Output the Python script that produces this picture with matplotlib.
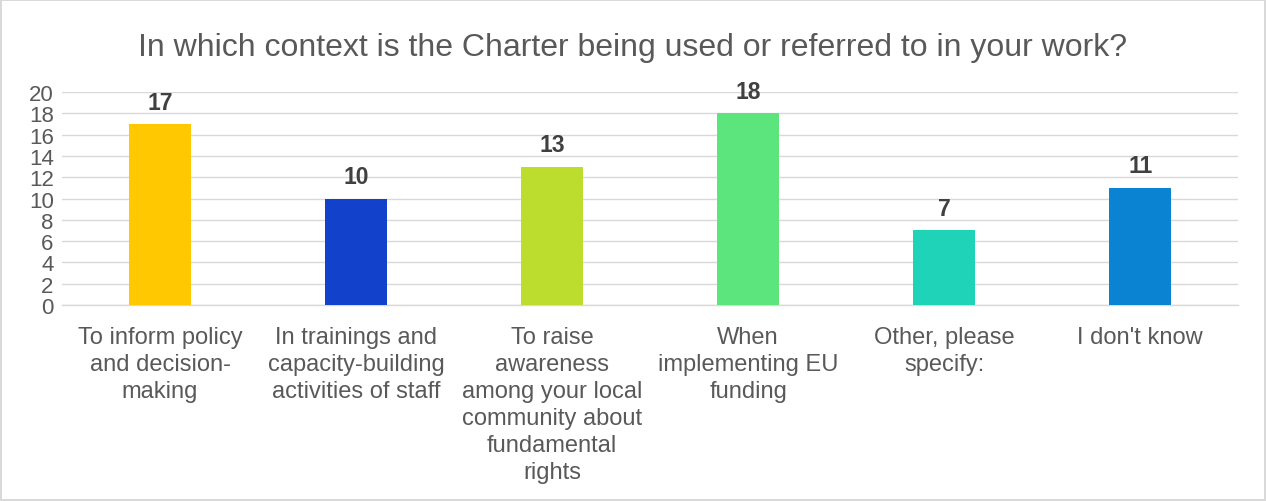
import matplotlib
matplotlib.use("Agg")
import matplotlib.pyplot as plt

categories = [
    "To inform policy\nand decision-\nmaking",
    "In trainings and\ncapacity-building\nactivities of staff",
    "To raise\nawareness\namong your local\ncommunity about\nfundamental\nrights",
    "When\nimplementing EU\nfunding",
    "Other, please\nspecify:",
    "I don't know",
]
values = [17, 10, 13, 18, 7, 11]
colors = ["#FFC800", "#1241CC", "#BDDD2E", "#5CE57C", "#1FD3B9", "#0A84D2"]
yticks = list(range(0, 21, 2))

plt.rcParams['font.family'] = ['Liberation Sans', 'DejaVu Sans']

fig = plt.figure(figsize=(12.66, 5.02), dpi=100)
fig.patch.set_facecolor("white")
fig.patch.set_edgecolor("#D9D9D9")
fig.patch.set_linewidth(1.5)

ax = fig.add_axes([0.049, 0.3904, 0.929, 0.4243])
x = list(range(len(categories)))
bars = ax.bar(x, values, width=0.316, color=colors, zorder=3)
for xi, v in zip(x, values):
    ax.annotate(str(v), (xi, v), xytext=(0, 7.5), textcoords="offset points",
                ha="center", va="bottom", fontsize=16.5, fontweight="bold", color="#404040")

ax.set_xlim(-0.5, len(categories) - 0.5)
ax.set_ylim(0, 20)
ax.set_yticks(yticks)
ax.set_yticklabels([str(t) for t in yticks], fontsize=16, color="#595959")
ax.set_xticks(x)
ax.set_xticklabels(categories, fontsize=17, color="#595959", linespacing=1.29)
ax.tick_params(axis="both", length=0)
ax.tick_params(axis="y", pad=6)
ax.tick_params(axis="x", pad=15)
ax.grid(axis="y", color="#D9D9D9", linewidth=1, zorder=0)
for s in ["top", "right", "left"]:
    ax.spines[s].set_visible(False)
ax.spines["bottom"].set_color("#D9D9D9")
ax.spines["bottom"].set_linewidth(1)

fig.text(0.5, 0.905, "In which context is the Charter being used or referred to in your work?",
         ha="center", va="center", fontsize=23, color="#595959")

fig.savefig("out.png", dpi=100, facecolor=fig.get_facecolor(), edgecolor=fig.get_edgecolor())
